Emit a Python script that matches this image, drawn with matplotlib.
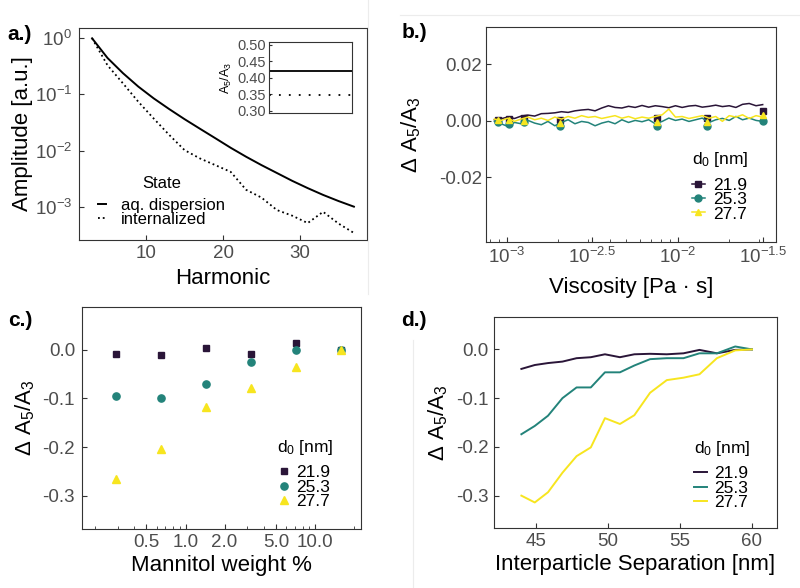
import numpy as np
import matplotlib
matplotlib.use("Agg")
import matplotlib.pyplot as plt
from matplotlib.lines import Line2D
from matplotlib.ticker import FixedLocator, NullLocator, LogLocator

plt.rcParams['font.family'] = ['Liberation Sans', 'DejaVu Sans']
plt.rcParams['mathtext.fontset'] = 'custom'
plt.rcParams['mathtext.rm'] = 'Liberation Sans'
plt.rcParams['mathtext.it'] = 'Liberation Sans:italic'
plt.rcParams['mathtext.bf'] = 'Liberation Sans:bold'
plt.rcParams['axes.unicode_minus'] = False

# ---- data ----
# a.) harmonic spectra
harmonic = [3, 5, 7, 9, 11, 13, 15, 17, 19, 21, 23, 25, 27, 29, 31, 33, 35, 37]
amp_aq = [1.0, 0.447, 0.240, 0.138, 0.0851, 0.0550, 0.0363, 0.0245, 0.0166, 0.0112,
          0.00776, 0.00550, 0.00398, 0.00288, 0.00214, 0.00162, 0.00126, 0.00100]
amp_int = [1.0, 0.331, 0.158, 0.0741, 0.0372, 0.0191, 0.0102, 0.00724, 0.00550, 0.00417,
           0.00200, 0.00145, 0.00087, 0.00069, 0.00051, 0.00081, 0.00050, 0.00034]
ratio_aq = 0.421
ratio_int = 0.347
state_labels = ['aq. dispersion', 'internalized']

# b.) viscosity sweep (log10 of viscosity in Pa s)
log_visc = [-3.074, -3.035, -2.995, -2.956, -2.917, -2.877, -2.838, -2.799, -2.760, -2.720,
            -2.681, -2.642, -2.602, -2.563, -2.524, -2.484, -2.445, -2.406, -2.367, -2.327,
            -2.288, -2.249, -2.209, -2.170, -2.131, -2.091, -2.052, -2.013, -1.974, -1.934,
            -1.895, -1.856, -1.816, -1.777, -1.738, -1.698, -1.659, -1.620, -1.581, -1.541,
            -1.502]
b_219 = [0.35, 0.7, 1.3, 0.8, 1.65, 2.0, 1.65, 2.5, 2.6, 2.8, 3.2, 2.95, 3.5, 3.8, 4.0,
         3.5, 4.5, 5.3, 4.7, 4.5, 5.1, 4.7, 5.4, 4.8, 5.3, 5.0, 4.6, 5.3, 4.7, 5.2, 5.4,
         4.8, 5.1, 5.5, 5.0, 5.3, 4.7, 5.8, 6.1, 5.3, 5.7]
b_253 = [-0.24, -1.06, -2.0, -0.6, -1.06, 0.12, -0.83, -1.4, -0.24, -1.77, -0.6, 0.35,
         -1.06, -0.24, -0.6, -1.77, -0.83, -0.24, -1.06, 0.35, -0.6, 0.12, -0.35, 0.35,
         -1.06, -0.24, 0.94, 0.12, 0.59, -0.24, 0.35, 0.94, -0.6, 0.35, 0.83, 0.12, 1.53,
         0.35, 0.94, 0.12, -0.24]
b_277 = [0.6, 0.1, 0.9, -0.2, 0.6, 1.3, 0.35, 0.9, 0.1, 1.3, 0.6, 1.5, 0.9, 1.8, 1.2,
         1.5, 0.8, 1.3, 1.8, 0.9, 1.5, 0.7, 1.3, 0.9, 1.5, 2.1, 4.1, 1.3, 1.5, 0.8, 1.3,
         1.8, 0.9, 1.5, -0.2, 1.8, 1.3, 2.1, 0.8, 1.8, 1.3]
log_visc_meas = [-3.05, -2.99, -2.90, -2.69, -2.12, -1.83, -1.50]
bm_219 = [0.3, 0.6, 0.8, 0.35, 0.9, 0.9, 3.3]
bm_253 = [-0.5, -1.0, -0.6, -1.8, -2.0, -1.8, -0.2]
bm_277 = [0.3, 0.2, 0.0, -0.8, -0.6, -0.6, 1.9]

# c.) mannitol
mannitol = [0.29, 0.644, 1.44, 3.21, 7.13, 15.8]
c_219 = [-0.009, -0.010, 0.0035, -0.009, 0.013, 0.0]
c_253 = [-0.094, -0.100, -0.071, -0.026, 0.0, 0.0]
c_277 = [-0.266, -0.203, -0.118, -0.079, -0.035, 0.0]

# d.) interparticle separation
separation = [44.0, 44.93, 45.85, 46.85, 47.83, 48.82, 49.8, 50.84, 51.84, 52.93,
              54.09, 55.25, 56.36, 57.57, 58.84, 60.0]
d_219 = [-0.040, -0.032, -0.028, -0.025, -0.018, -0.016, -0.010, -0.016, -0.010,
         -0.009, -0.010, -0.008, -0.001, -0.008, -0.001, 0.0]
d_253 = [-0.174, -0.157, -0.136, -0.100, -0.078, -0.078, -0.047, -0.047, -0.033,
         -0.020, -0.018, -0.018, -0.008, -0.008, 0.006, 0.0]
d_277 = [-0.300, -0.314, -0.293, -0.253, -0.219, -0.201, -0.141, -0.153, -0.135,
         -0.089, -0.063, -0.058, -0.051, -0.018, -0.002, 0.0]

sizes = ['21.9', '25.3', '27.7']
colors = ['#2A1538', '#23837A', '#F7E51F']
markers = ['s', 'o', '^']

tick_col = '#4D4D4D'
frame_col = '#333333'
TICK_FS = 13.5
LAB_FS = 16
LEG_FS = 12.5
W, H = 800, 588


def box(l, t, r, b):
    return [l / W, (H - b) / H, (r - l) / W, (b - t) / H]


def style(ax, ypad=5):
    for s in ax.spines.values():
        s.set_color(frame_col)
        s.set_linewidth(0.8)
    ax.tick_params(which='major', direction='in', length=3.5, width=0.8,
                   color=frame_col, labelsize=TICK_FS, labelcolor=tick_col)
    ax.tick_params(axis='x', which='major', pad=3.5)
    ax.tick_params(axis='y', which='major', pad=ypad)
    ax.tick_params(which='minor', direction='in', length=2, width=0.6, color=frame_col)


def legend(ax, handles, labels, title, anchor, fs, hl, htp, align='left', gap=6):
    leg = ax.legend(handles, labels, title=title, loc='lower left', bbox_to_anchor=anchor,
                    frameon=False, fontsize=fs, title_fontsize=fs, handlelength=hl,
                    handletextpad=htp, labelspacing=-0.05, borderpad=0, borderaxespad=0,
                    alignment=align)
    leg._legend_box.sep = gap
    return leg


fig = plt.figure(figsize=(8, 5.88), dpi=100)

# faint separators from the original composite
for seg in [([368, 368], [0, 294]), ([400, 800], [15, 15]), ([413, 413], [340, 588])]:
    fig.add_artist(Line2D(np.array(seg[0]) / W, 1 - np.array(seg[1]) / H,
                          color='#ECECEC', lw=0.8))

# ---- a.) ----
ax = fig.add_axes(box(79, 28, 367, 240))
la, = ax.plot(harmonic, amp_aq, color='black', lw=1.4)
li, = ax.plot(harmonic, amp_int, color='black', lw=1.3, ls=':')
ax.set_yscale('log')
ax.set_xlim(1.3, 38.7)
ax.set_ylim(10 ** -3.594, 10 ** 0.184)
ax.yaxis.set_major_locator(FixedLocator([1, 0.1, 0.01, 0.001]))
ax.yaxis.set_minor_locator(NullLocator())
ax.set_xticks([10, 20, 30])
style(ax)
ax.set_xlabel('Harmonic', fontsize=LAB_FS, labelpad=4.6)
ax.set_ylabel('Amplitude [a.u.]', fontsize=LAB_FS)
ax.yaxis.set_label_coords(-0.16, 0.5)
legend(ax, [la, li], state_labels, 'State', (0.066, 0.062), 12, 0.5, 0.9,
       align='center', gap=5)
fig.text(20 / W, 1 - 35 / H, 'a.)', fontsize=15, fontweight='bold', ha='center', va='center')

axi = fig.add_axes(box(269, 42.3, 351.7, 112.7))
axi.axhline(ratio_aq, color='black', lw=1.3)
axi.axhline(ratio_int, color='black', lw=1.3, dashes=(1, 4.5))
axi.set_ylim(0.294, 0.507)
axi.set_yticks([0.30, 0.35, 0.40, 0.45, 0.50])
axi.set_xticks([])
style(axi)
axi.tick_params(labelsize=10.5, length=2.5, pad=2.5)
axi.set_ylabel('A$_5$/A$_3$', fontsize=9, labelpad=2)

# ---- b.) ----
ax = fig.add_axes(box(486, 27, 776, 241.7))
visc = 10 ** np.array(log_visc)
visc_m = 10 ** np.array(log_visc_meas)
for yl, ym, c, m in zip([b_219, b_253, b_277], [bm_219, bm_253, bm_277], colors, markers):
    ax.plot(visc, np.array(yl) / 1000, color=c, lw=1.1)
    ax.plot(visc_m, np.array(ym) / 1000, ls='none', marker=m, ms=5, color=c, mec=c)
ax.set_xscale('log')
ax.set_xlim(10 ** -3.123, 10 ** -1.424)
ax.set_ylim(-0.0427, 0.0331)
ax.xaxis.set_major_locator(FixedLocator(10 ** np.array([-3, -2.5, -2, -1.5])))
ax.xaxis.set_minor_locator(LogLocator(base=10, subs=np.arange(2, 10)))
ax.set_xticklabels(['$10^{-3}$', '$10^{-2.5}$', '$10^{-2}$', '$10^{-1.5}$'])
ax.set_yticks([-0.02, 0.0, 0.02])
ax.set_yticklabels(['-0.02', '0.00', '0.02'])
style(ax, ypad=3)
ax.set_xlabel('Viscosity [Pa · s]', fontsize=LAB_FS, labelpad=7.5)
ax.set_ylabel('Δ A$_5$/A$_3$', fontsize=LAB_FS)
ax.yaxis.set_label_coords(-0.217, 0.5)
hb = [Line2D([], [], color=c, lw=1.1, marker=m, ms=5) for c, m in zip(colors, markers)]
legend(ax, hb, sizes, 'd$_0$ [nm]', (0.71, 0.094), LEG_FS, 0.75, 0.46)
fig.text(414 / W, 1 - 33 / H, 'b.)', fontsize=15, fontweight='bold', ha='center', va='center')

# ---- c.) ----
ax = fig.add_axes(box(82, 307, 361, 529))
hc = []
for yv, c, m in zip([c_219, c_253, c_277], colors, markers):
    h, = ax.plot(mannitol, yv, ls='none', marker=m, ms=4.8 if m == 's' else 5.2,
                 color=c, mec=c)
    hc.append(h)
ax.set_xscale('log')
ax.set_xlim(0.159, 22.6)
ax.set_ylim(-0.368, 0.0877)
ax.xaxis.set_major_locator(FixedLocator([0.5, 1, 2, 5, 10]))
ax.xaxis.set_minor_locator(LogLocator(base=10, subs=np.arange(2, 10)))
ax.set_xticklabels(['0.5', '1.0', '2.0', '5.0', '10.0'])
ax.set_yticks([-0.3, -0.2, -0.1, 0.0])
ax.set_yticklabels(['-0.3', '-0.2', '-0.1', '0.0'])
style(ax)
ax.set_xlabel('Mannitol weight %', fontsize=LAB_FS, labelpad=3)
ax.set_ylabel('Δ A$_5$/A$_3$', fontsize=LAB_FS)
ax.yaxis.set_label_coords(-0.161, 0.5)
legend(ax, hc, sizes, 'd$_0$ [nm]', (0.70, 0.09), LEG_FS, 0.8, 0.3)
fig.text(20 / W, 1 - 320 / H, 'c.)', fontsize=15, fontweight='bold', ha='center', va='center')

# ---- d.) ----
ax = fig.add_axes(box(494, 317, 777, 528.3))
hd = []
for yv, c in zip([d_219, d_253, d_277], colors):
    h, = ax.plot(separation, yv, color=c, lw=1.4)
    hd.append(h)
ax.set_xlim(42.1, 61.74)
ax.set_ylim(-0.367, 0.0665)
ax.set_xticks([45, 50, 55, 60])
ax.set_yticks([-0.3, -0.2, -0.1, 0.0])
ax.set_yticklabels(['-0.3', '-0.2', '-0.1', '0.0'])
style(ax, ypad=4)
ax.set_xlabel('Interparticle Separation [nm]', fontsize=LAB_FS, labelpad=3)
ax.set_ylabel('Δ A$_5$/A$_3$', fontsize=LAB_FS)
ax.yaxis.set_label_coords(-0.155, 0.5)
legend(ax, hd, sizes, 'd$_0$ [nm]', (0.705, 0.087), LEG_FS, 0.75, 0.46)
fig.text(414 / W, 1 - 321 / H, 'd.)', fontsize=15, fontweight='bold', ha='center', va='center')

fig.savefig('out.png', dpi=100)
